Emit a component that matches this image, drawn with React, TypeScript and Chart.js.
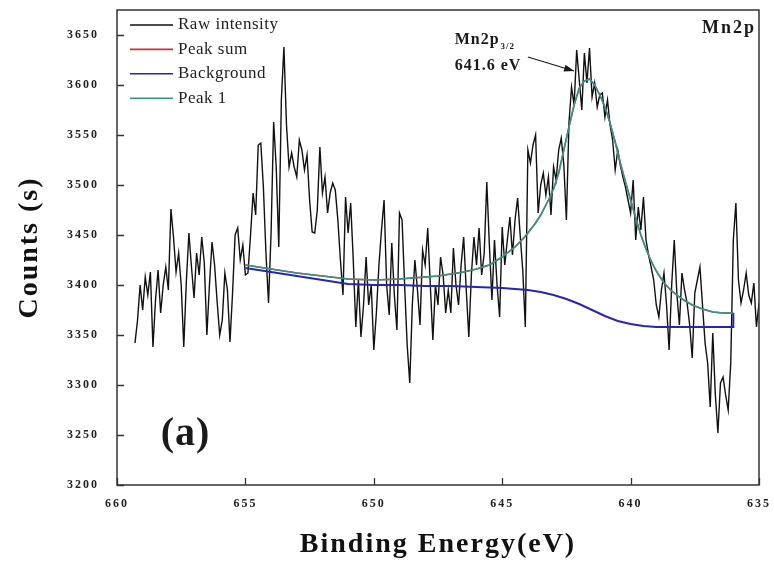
import React, { useEffect, useRef } from "react";
import { Chart, registerables } from "chart.js";

Chart.register(...registerables);

// ---------- axis ticks ----------
const X_TICKS = [660, 655, 650, 645, 640, 635];
const Y_TICKS = [3200, 3250, 3300, 3350, 3400, 3450, 3500, 3550, 3600, 3650];

// ---------- series labels / colours ----------
const SERIES_LABELS = ["Raw intensity", "Peak sum", "Background", "Peak 1"];
const SERIES_COLORS = ["#111111", "#c83232", "#2626b2", "#2f9689"];

// ---------- raw spectrum (uniform 0.1 eV grid, 659.3 -> 635.0 eV) ----------
const RAW_START_EV = 659.3;
const RAW_STEP_EV = 0.1;
const rawCounts = [
  3342, 3365, 3400, 3375, 3408, 3390, 3413, 3338, 3385, 3415,
  3372, 3400, 3418, 3395, 3476, 3448, 3413, 3432, 3400, 3338,
  3403, 3452, 3418, 3387, 3432, 3410, 3448, 3422, 3350, 3400,
  3443, 3420, 3383, 3350, 3365, 3412, 3395, 3343, 3392, 3450,
  3457, 3425, 3440, 3410,
  3412, 3450, 3492, 3470, 3540, 3542, 3498, 3432, 3382, 3452,
  3563, 3518, 3438, 3585, 3638, 3560, 3518, 3532, 3518, 3508,
  3545, 3535, 3515, 3530, 3485, 3453, 3452, 3475, 3538, 3492,
  3508, 3472, 3492, 3502, 3495, 3465, 3425, 3390, 3488, 3452,
  3482, 3425, 3358, 3405, 3348, 3380, 3428, 3380, 3400, 3335,
  3372, 3420, 3455, 3485, 3400, 3370, 3442, 3390, 3355, 3472,
  3465, 3400, 3340, 3302, 3380, 3425, 3395, 3360, 3435, 3420,
  3457, 3400, 3345, 3400, 3380, 3428, 3410, 3372, 3395, 3372,
  3437, 3400, 3380, 3420, 3448, 3395, 3348, 3410, 3448, 3420,
  3457, 3410, 3432, 3503, 3440, 3385, 3445, 3400, 3368, 3458,
  3420, 3445, 3468, 3430, 3465, 3487, 3450, 3415, 3358, 3535,
  3522, 3540, 3550, 3472, 3500, 3512, 3490, 3508, 3470, 3518,
  3505, 3535, 3547, 3520, 3465, 3562, 3598, 3580, 3635, 3605,
  3575, 3632, 3602, 3637, 3588, 3602, 3578, 3590, 3592, 3568,
  3585, 3560, 3545, 3515, 3535, 3520, 3508, 3498, 3485, 3472,
  3505, 3445, 3478, 3455, 3488, 3445, 3430, 3418, 3405, 3380,
  3368, 3395, 3412, 3380, 3335, 3400, 3445, 3392, 3360, 3412,
  3395, 3382, 3360, 3327, 3392, 3405, 3418, 3380, 3342, 3322,
  3278, 3352, 3290, 3252, 3302, 3308, 3290, 3275, 3322, 3445,
  3482, 3405, 3382, 3395, 3412, 3390, 3382, 3402, 3358, 3382,
];

// ---------- Shirley background ----------
const bgEnergy = [
  655.0, 654.5, 654.0, 653.5, 653.0, 652.5, 652.0, 651.5, 651.0, 650.0,
  649.0, 648.0, 647.0, 646.0, 645.0, 644.0, 643.5, 643.0, 642.5, 642.0,
  641.5, 641.0, 640.5, 640.0, 639.5, 639.0, 638.0, 637.0, 636.0, 636.0,
];
const bgCounts = [
  3417, 3415, 3413, 3411, 3409, 3407, 3405, 3403, 3401, 3400,
  3400, 3399, 3399, 3398, 3397, 3395, 3393, 3390, 3386, 3381,
  3375, 3369, 3364, 3361, 3359, 3358, 3358, 3358, 3358, 3372,
];

// ---------- fitted peak (Peak 1; Peak sum equals it, single component) ----------
const peakEnergy = [
  655.0, 654.0, 653.0, 652.0, 651.0, 650.0, 649.0, 648.0, 647.5, 647.0,
  646.5, 646.0, 645.5, 645.0, 644.5, 644.2, 644.0, 643.7, 643.5, 643.2,
  643.0, 642.8, 642.6, 642.4, 642.2, 642.0, 641.8, 641.6, 641.4, 641.2,
  641.0, 640.8, 640.6, 640.4, 640.2, 640.0, 639.8, 639.6, 639.4, 639.2,
  639.0, 638.7, 638.4, 638.0, 637.6, 637.2, 636.8, 636.4, 636.0,
];
const peak1Counts = [
  3420, 3416, 3412, 3409, 3406, 3405, 3406, 3408, 3409, 3411,
  3413, 3416, 3420, 3428, 3438, 3446, 3452, 3462, 3470, 3485,
  3496, 3512, 3535, 3558, 3580, 3597, 3604, 3606, 3600, 3590,
  3578, 3562, 3543, 3522, 3503, 3485, 3467, 3450, 3436, 3424,
  3414, 3402, 3394, 3386, 3380, 3376, 3373, 3372, 3372,
];
const peakSumCounts = [
  3420, 3416, 3412, 3409, 3406, 3405, 3406, 3408, 3409, 3411,
  3413, 3416, 3420, 3428, 3438, 3446, 3452, 3462, 3470, 3485,
  3496, 3512, 3535, 3558, 3580, 3597, 3604, 3606, 3600, 3590,
  3578, 3562, 3543, 3522, 3503, 3485, 3467, 3450, 3436, 3424,
  3414, 3402, 3394, 3386, 3380, 3376, 3373, 3372, 3372,
];

// ---------- annotation ----------
const PEAK_LABEL = "Mn2p";
const PEAK_LABEL_SUB = "3/2";
const PEAK_POSITION_TEXT = "641.6 eV";
const PANEL_LABEL = "Mn2p";
const PANEL_TAG = "(a)";

const FONT = '"Liberation Serif", "Times New Roman", serif';

const pairs = (xs: number[], ys: number[]) => xs.map((x, i) => ({ x, y: ys[i] }));
const rawPoints = rawCounts.map((y, i) => ({
  x: Math.round((RAW_START_EV - i * RAW_STEP_EV) * 100) / 100,
  y,
}));

const spacingPlugin = {
  id: "spacing",
  beforeUpdate(chart: any) {
    chart.ctx.letterSpacing = "2px";
  },
  beforeDraw(chart: any) {
    chart.ctx.letterSpacing = "2px";
  },
};

const framePlugin = {
  id: "frame",
  afterDatasetsDraw(chart: any) {
    const { ctx, chartArea: a, scales } = chart;
    ctx.save();
    ctx.strokeStyle = "#333";
    ctx.lineWidth = 1.5;
    ctx.strokeRect(a.left, a.top, a.right - a.left, a.bottom - a.top);
    ctx.lineWidth = 1.3;
    ctx.beginPath();
    for (const v of X_TICKS) {
      const px = Math.round(scales.x.getPixelForValue(v)) + 0.5;
      ctx.moveTo(px, a.bottom);
      ctx.lineTo(px, a.bottom - 7);
    }
    for (const v of Y_TICKS) {
      const py = Math.round(scales.y.getPixelForValue(v)) + 0.5;
      ctx.moveTo(a.left, py);
      ctx.lineTo(a.left + 7, py);
    }
    ctx.stroke();
    ctx.restore();
  },
};

const legendPlugin = {
  id: "insideLegend",
  afterDraw(chart: any) {
    const { ctx, chartArea: a } = chart;
    ctx.save();
    ctx.letterSpacing = "0.5px";
    ctx.font = `17px ${FONT}`;
    ctx.textBaseline = "middle";
    ctx.textAlign = "left";
    chart.data.datasets.forEach((ds: any, i: number) => {
      const y = a.top + 15 + i * 24.4;
      ctx.strokeStyle = ds.borderColor;
      ctx.lineWidth = 1.6;
      ctx.beginPath();
      ctx.moveTo(a.left + 13, y);
      ctx.lineTo(a.left + 56, y);
      ctx.stroke();
      ctx.fillStyle = "#222";
      ctx.fillText(ds.label, a.left + 61, y);
    });
    ctx.restore();
  },
};

const annotationPlugin = {
  id: "annotations",
  afterDraw(chart: any) {
    const { ctx, chartArea: a, scales } = chart;
    const X = (v: number) => scales.x.getPixelForValue(v);
    const Y = (v: number) => scales.y.getPixelForValue(v);
    ctx.save();
    ctx.fillStyle = "#1a1a1a";
    ctx.textAlign = "left";
    ctx.textBaseline = "alphabetic";
    // peak label
    ctx.letterSpacing = "1px";
    ctx.font = `bold 16px ${FONT}`;
    const lx = X(646.85);
    const ly = Y(3641);
    ctx.fillText(PEAK_LABEL, lx, ly);
    const w = ctx.measureText(PEAK_LABEL).width;
    ctx.font = `bold 9px ${FONT}`;
    ctx.fillText(PEAK_LABEL_SUB, lx + w + 1, ly + 5);
    ctx.font = `bold 16px ${FONT}`;
    ctx.fillText(PEAK_POSITION_TEXT, lx, Y(3615));
    // arrow
    const x0 = X(644.0), y0 = Y(3628), x1 = X(642.2), y1 = Y(3614);
    ctx.strokeStyle = "#1a1a1a";
    ctx.lineWidth = 1.2;
    ctx.beginPath();
    ctx.moveTo(x0, y0);
    ctx.lineTo(x1, y1);
    ctx.stroke();
    const ang = Math.atan2(y1 - y0, x1 - x0);
    ctx.beginPath();
    ctx.moveTo(x1, y1);
    ctx.lineTo(x1 - 10 * Math.cos(ang) + 3.5 * Math.sin(ang), y1 - 10 * Math.sin(ang) - 3.5 * Math.cos(ang));
    ctx.lineTo(x1 - 10 * Math.cos(ang) - 3.5 * Math.sin(ang), y1 - 10 * Math.sin(ang) + 3.5 * Math.cos(ang));
    ctx.closePath();
    ctx.fill();
    // panel label
    ctx.letterSpacing = "2px";
    ctx.font = `bold 18px ${FONT}`;
    ctx.textAlign = "right";
    ctx.fillText(PANEL_LABEL, a.right - 3, a.top + 23);
    // panel tag
    ctx.letterSpacing = "1px";
    ctx.font = `bold 40px ${FONT}`;
    ctx.textAlign = "left";
    ctx.fillText(PANEL_TAG, X(658.3), Y(3240));
    ctx.restore();
  },
};

export default function App() {
  const ref = useRef<HTMLCanvasElement>(null);
  useEffect(() => {
    const datasets = [
      { label: SERIES_LABELS[0], data: rawPoints, borderColor: SERIES_COLORS[0], borderWidth: 1.4, order: 4 },
      { label: SERIES_LABELS[1], data: pairs(peakEnergy, peakSumCounts), borderColor: SERIES_COLORS[1], borderWidth: 1.5, order: 3 },
      { label: SERIES_LABELS[2], data: pairs(bgEnergy, bgCounts), borderColor: SERIES_COLORS[2], borderWidth: 2, order: 2 },
      { label: SERIES_LABELS[3], data: pairs(peakEnergy, peak1Counts), borderColor: SERIES_COLORS[3], borderWidth: 1.6, order: 1 },
    ].map((d) => ({ ...d, backgroundColor: d.borderColor, pointRadius: 0, tension: 0, fill: false }));

    const chart = new Chart(ref.current as HTMLCanvasElement, {
      type: "line",
      data: { datasets },
      options: {
        animation: false,
        responsive: false,
        devicePixelRatio: 1,
        layout: { padding: { left: 0, top: 10, right: 15, bottom: 0 } },
        plugins: { legend: { display: false }, tooltip: { enabled: false } },
        scales: {
          x: {
            type: "linear",
            reverse: true,
            min: 635,
            max: 660,
            afterFit: (s: any) => {
              s.height = 88;
              s.paddingLeft = 0;
              s.paddingRight = 0;
            },
            afterBuildTicks: (s: any) => { s.ticks = X_TICKS.map((value) => ({ value })); },
            grid: { display: false, drawTicks: false },
            border: { display: false },
            ticks: {
              padding: 12,
              color: "#222",
              font: { family: FONT, size: 12, weight: "bold" },
              callback: (v: any) => String(v),
            },
            title: {
              display: true,
              text: "Binding Energy(eV)",
              color: "#111",
              font: { family: FONT, size: 28, weight: "bold" },
              padding: { top: 0, bottom: 11 },
            },
          },
          y: {
            type: "linear",
            min: 3200,
            max: 3675,
            afterFit: (s: any) => {
              s.width = 117;
              s.paddingTop = 0;
              s.paddingBottom = 0;
            },
            afterBuildTicks: (s: any) => { s.ticks = Y_TICKS.map((value) => ({ value })); },
            grid: { display: false, drawTicks: false },
            border: { display: false },
            ticks: {
              padding: 18,
              color: "#222",
              font: { family: FONT, size: 12, weight: "bold" },
              callback: (v: any) => String(v),
            },
            title: {
              display: true,
              text: "Counts (s)",
              color: "#111",
              font: { family: FONT, size: 28, weight: "bold" },
              padding: { top: 13, bottom: 0 },
            },
          },
        },
      },
      plugins: [spacingPlugin, framePlugin, legendPlugin, annotationPlugin],
    } as any);
    return () => chart.destroy();
  }, []);

  return (
    <div style={{ position: "absolute", left: 0, top: 0, width: 774, height: 573, background: "#fff" }}>
      <canvas ref={ref} width={774} height={573} style={{ display: "block" }} />
    </div>
  );
}
